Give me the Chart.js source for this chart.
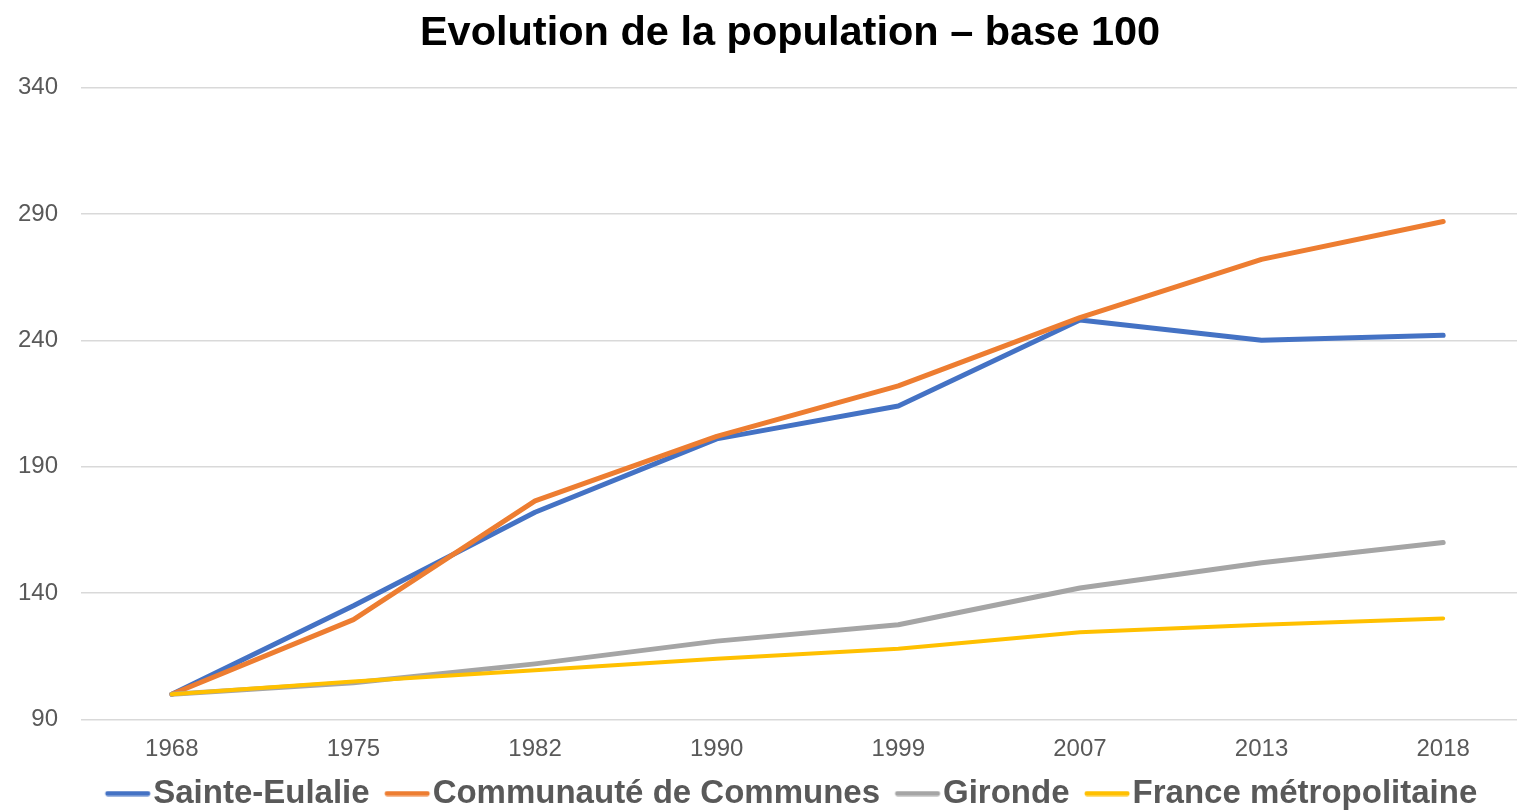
<!DOCTYPE html>
<html>
<head>
<meta charset="utf-8">
<script src="https://cdn.jsdelivr.net/npm/chart.js@4.4.1/dist/chart.umd.min.js"></script>
<style>
  html, body { margin: 0; padding: 0; background: #fff; overflow: hidden; }
  #wrap { width: 1580px; height: 820px; }
</style>
</head>
<body>
<div id="wrap"><canvas id="c" width="1580" height="820"></canvas></div>
<script>
const titleText = 'Evolution de la population – base 100';
const years = ['1968', '1975', '1982', '1990', '1999', '2007', '2013', '2018'];
const seriesNames = ['Sainte-Eulalie', 'Communauté de Communes', 'Gironde', 'France métropolitaine'];
const sainteEulalie = [100, 135, 172, 201, 214, 248, 240, 242];
const communaute = [100, 129.5, 176.5, 202, 222, 249, 272, 287];
const gironde = [100, 104.5, 112, 121, 127.5, 142, 152, 160];
const france = [100, 105, 109.5, 114, 118, 124.5, 127.5, 130];
const yTicks = [90, 140, 190, 240, 290, 340];

const colors = ['#4472C4', '#ED7D31', '#A5A5A5', '#FFC000'];
const widths = [5, 5, 5, 4];
const values = [sainteEulalie, communaute, gironde, france];

// legend marker: a short rounded line, offset inside a transparent canvas
function marker(color) {
  const cv = document.createElement('canvas');
  cv.width = 96; cv.height = 6;
  const g = cv.getContext('2d');
  g.strokeStyle = color; g.lineWidth = 5; g.lineCap = 'round';
  g.beginPath(); g.moveTo(36, 3); g.lineTo(76, 3); g.stroke();
  return cv;
}

const datasets = values.map((v, i) => ({
  label: seriesNames[i],
  data: v,
  borderColor: colors[i],
  backgroundColor: colors[i],
  borderWidth: widths[i],
  borderCapStyle: 'round',
  borderJoinStyle: 'round',
  pointRadius: 0,
  pointHoverRadius: 0,
  pointStyle: marker(colors[i]),
  tension: 0,
  fill: false,
  order: 3 - i
}));

const FONT = 'Liberation Sans, Arial, sans-serif';

new Chart(document.getElementById('c'), {
  type: 'line',
  data: { labels: years, datasets },
  options: {
    responsive: false,
    devicePixelRatio: 1,
    animation: false,
    layout: { padding: 0 },
    plugins: {
      title: {
        display: true,
        text: titleText,
        color: '#000',
        font: { family: FONT, size: 41.5, weight: 'bold' },
        padding: { top: 9, bottom: 28.7 }
      },
      legend: {
        position: 'bottom',
        labels: {
          usePointStyle: true,
          pointStyleWidth: 34,
          boxHeight: 33,
          padding: 12.5,
          color: '#595959',
          font: { family: FONT, size: 33, weight: 'bold' },
          sort: (a, b) => a.datasetIndex - b.datasetIndex
        }
      },
      tooltip: { enabled: false }
    },
    scales: {
      x: {
        offset: true,
        grid: { display: false, drawTicks: false },
        border: { display: false },
        ticks: {
          color: '#595959',
          padding: 15,
          font: { family: FONT, size: 24 },
          maxRotation: 0
        },
        afterFit: (s) => { s.height = 45; }
      },
      y: {
        min: 90,
        max: 340,
        afterBuildTicks: (s) => { s.ticks = yTicks.map(v => ({ value: v })); },
        grid: { color: '#d9d9d9', lineWidth: 1.5, drawTicks: false },
        border: { display: false },
        ticks: {
          color: '#595959',
          padding: 23,
          font: { family: FONT, size: 24 }
        },
        afterFit: (s) => { s.width = 81; }
      },
      yRight: {
        position: 'right',
        min: 90,
        max: 340,
        grid: { display: false, drawTicks: false },
        border: { display: false },
        ticks: { display: false },
        afterFit: (s) => { s.width = 46; }
      }
    }
  }
});
</script>
</body>
</html>
